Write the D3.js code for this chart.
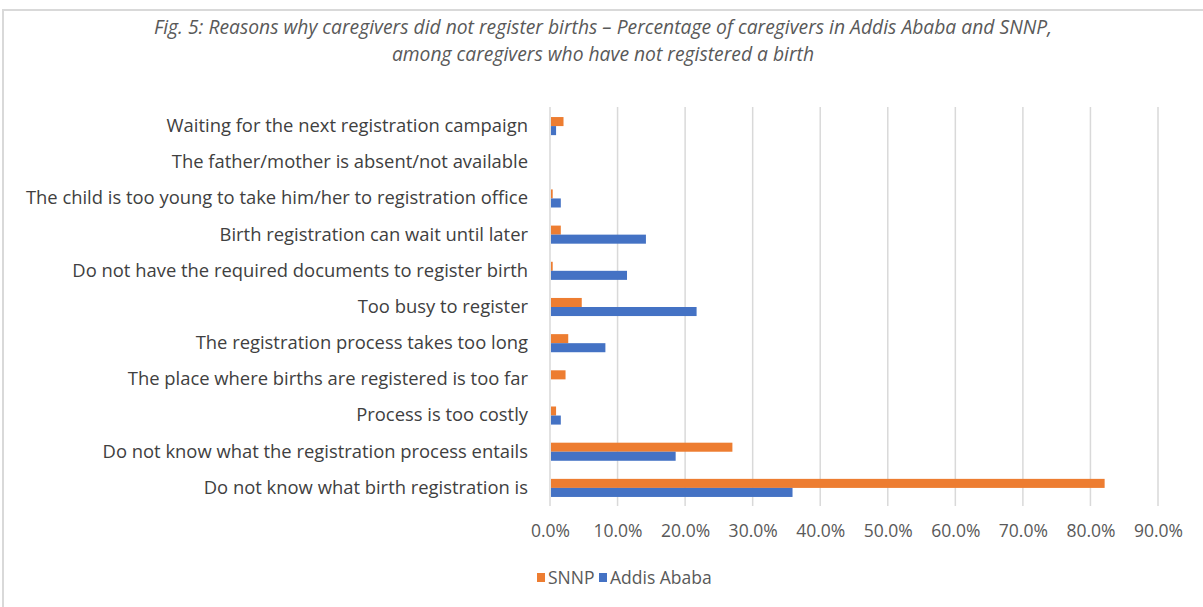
<!DOCTYPE html>
<html>
<head>
<meta charset="utf-8">
<script src="https://cdn.jsdelivr.net/npm/d3@7"></script>
<style>
  body { margin: 0; background: #fff; }
  svg { display: block; font-family: "Open Sans", sans-serif; }
</style>
</head>
<body>
<svg id="chart"></svg>
<script>
// categories, top to bottom as in the figure
const categories = [
  "Waiting for the next registration campaign",
  "The father/mother is absent/not available",
  "The child is too young to take him/her to registration office",
  "Birth registration can wait until later",
  "Do not have the required documents to register birth",
  "Too busy to register",
  "The registration process takes too long",
  "The place where births are registered is too far",
  "Process is too costly",
  "Do not know what the registration process entails",
  "Do not know what birth registration is"
];
const seriesNames = ["SNNP", "Addis Ababa"];
// percent values
const snnp  = [2.0, 0, 0.4, 1.6, 0.4, 4.7, 2.7, 2.3, 0.9, 27.0, 82.1];
const addis = [0.9, 0, 1.6, 14.2, 11.4, 21.7, 8.2, 0, 1.6, 18.6, 35.9];
const xTicks = [0, 10, 20, 30, 40, 50, 60, 70, 80, 90];
const titleLines = [
  "Fig. 5: Reasons why caregivers did not register births \u2013 Percentage of caregivers in Addis Ababa and SNNP,",
  "among caregivers who have not registered a birth"
];

let W = 1203, H = 607;
let margin = {top: 108, right: 45, bottom: 101, left: 550};
let colors = {"SNNP": "#ed7d31", "Addis Ababa": "#4472c4"};

let svg = d3.select("#chart").attr("width", W).attr("height", H);

// outer frame
svg.append("rect")
  .attr("x", 3).attr("y", 10)
  .attr("width", W + 10).attr("height", H + 10)
  .attr("fill", "none").attr("stroke", "#d9d9d9").attr("stroke-width", 2);

// title
svg.append("g").selectAll("text")
  .data(titleLines)
  .join("text")
  .attr("x", 603)
  .attr("y", (d, i) => 34 + i * 27)
  .attr("text-anchor", "middle")
  .attr("font-style", "italic")
  .attr("font-size", 19.3)
  .attr("fill", "#595959")
  .text(d => d);

let x = d3.scaleLinear()
  .domain([0, 90])
  .range([margin.left, W - margin.right]);

let y = d3.scaleBand()
  .domain(categories)
  .range([margin.top, H - margin.bottom])
  .paddingInner(0.5)
  .paddingOuter(0.25);

let ySub = d3.scaleBand()
  .domain(seriesNames)
  .range([0, y.bandwidth()]);

// gridlines
svg.append("g")
  .selectAll("line")
  .data(xTicks)
  .join("line")
  .attr("x1", d => x(d)).attr("x2", d => x(d))
  .attr("y1", margin.top - 1).attr("y2", H - margin.bottom)
  .attr("stroke", "#d9d9d9")
  .attr("stroke-width", 1.5);

// x axis labels
let xAxis = svg.append("g")
  .attr("transform", "translate(0," + (H - margin.bottom) + ")")
  .call(d3.axisBottom(x).tickValues(xTicks).tickSize(0).tickPadding(19)
    .tickFormat(d => d.toFixed(1) + "%"));
xAxis.select(".domain").remove();
xAxis.selectAll("text")
  .attr("font-family", "Open Sans, sans-serif")
  .attr("font-size", 17.5)
  .attr("fill", "#595959");

// y axis labels
let yAxis = svg.append("g")
  .attr("transform", "translate(" + (margin.left - 22) + ",0)")
  .call(d3.axisLeft(y).tickSize(0).tickPadding(0));
yAxis.select(".domain").remove();
yAxis.selectAll("text")
  .attr("font-family", "Open Sans, sans-serif")
  .attr("font-size", 18.4)
  .attr("fill", "#404040");

// bars
let rows = categories.map((c, i) => ({cat: c, vals: [
  {name: "SNNP", v: snnp[i]},
  {name: "Addis Ababa", v: addis[i]}
]}));

svg.append("g")
  .selectAll("g")
  .data(rows)
  .join("g")
  .attr("transform", d => "translate(0," + y(d.cat) + ")")
  .selectAll("rect")
  .data(d => d.vals)
  .join("rect")
  .attr("x", x(0) + 1)
  .attr("y", d => ySub(d.name))
  .attr("width", d => Math.max(0, x(d.v) - x(0) - 1))
  .attr("height", ySub.bandwidth())
  .attr("fill", d => colors[d.name]);

// legend
let legend = svg.append("g").attr("transform", "translate(537,584)");
let lx = [0, 62];
seriesNames.forEach(function(s, i) {
  let g = legend.append("g").attr("transform", "translate(" + lx[i] + ",0)");
  g.append("rect").attr("x", 0).attr("y", -11).attr("width", 8).attr("height", 9)
    .attr("fill", colors[s]);
  g.append("text").attr("x", 11).attr("y", 0)
    .attr("font-size", 17.5).attr("fill", "#595959")
    .text(s);
});
</script>
</body>
</html>
